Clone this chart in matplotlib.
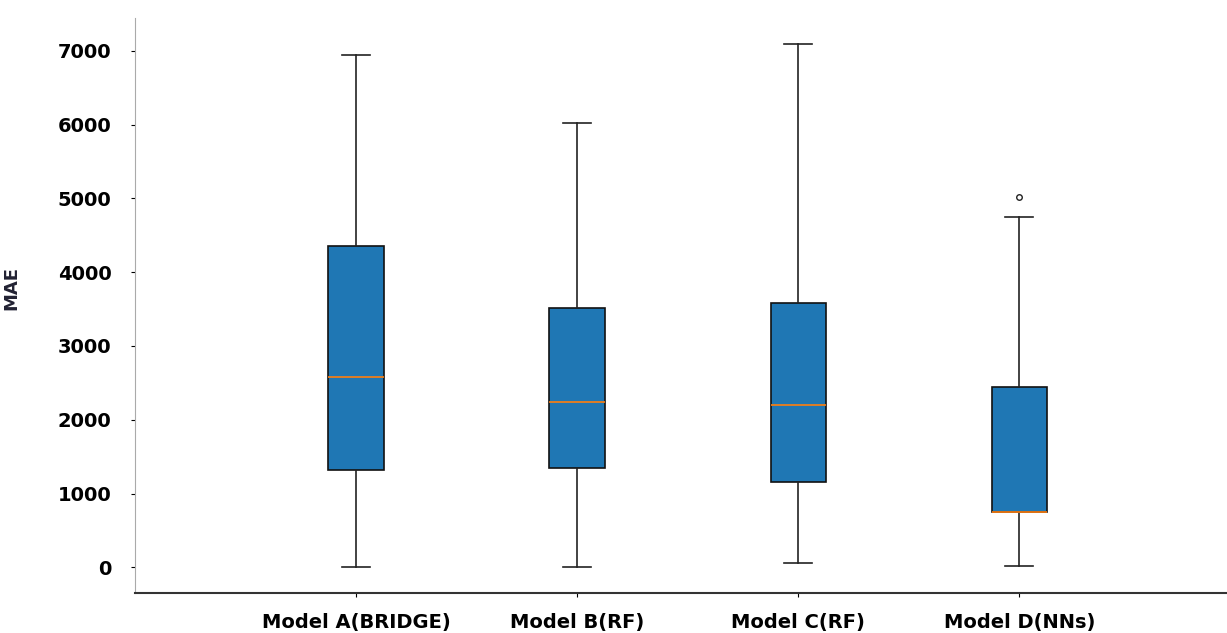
import matplotlib
matplotlib.use("Agg")
import matplotlib.pyplot as plt

models = ["Model A(BRIDGE)", "Model B(RF)", "Model C(RF)", "Model D(NNs)"]
whislo = [0, 0, 55, 15]
q1 = [1315, 1345, 1155, 745]
medians = [2580, 2240, 2200, 745]
q3 = [4355, 3515, 3580, 2440]
whishi = [6945, 6025, 7095, 4750]
fliers = [[], [], [], [5020]]

stats = []
for i, name in enumerate(models):
    stats.append({
        "label": name,
        "whislo": whislo[i],
        "q1": q1[i],
        "med": medians[i],
        "q3": q3[i],
        "whishi": whishi[i],
        "fliers": fliers[i],
    })

fig = plt.figure(figsize=(12.27, 6.33), dpi=100)
ax = fig.add_axes([0.11, 0.063, 0.89, 0.909])

ax.bxp(
    stats,
    positions=[1, 2, 3, 4],
    widths=0.25,
    patch_artist=True,
    boxprops=dict(facecolor="#1f77b4", edgecolor="#111111", linewidth=1.2),
    medianprops=dict(color="#ff7f0e", linewidth=1.2),
    whiskerprops=dict(color="#222222", linewidth=1.2),
    capprops=dict(color="#222222", linewidth=1.2),
    flierprops=dict(marker="o", markersize=4, markerfacecolor="none",
                    markeredgecolor="#222222"),
)

ax.set_xlim(0.0, 4.94)
ax.set_ylim(-350, 7450)
ax.set_yticks(range(0, 7001, 1000))
ax.set_ylabel("MAE", fontsize=13, fontweight="bold", color="#222233")
ax.yaxis.set_label_coords(-0.105, 0.53)

for lbl in ax.get_xticklabels() + ax.get_yticklabels():
    lbl.set_fontweight("bold")
    lbl.set_fontsize(14)
ax.tick_params(axis="x", length=3, pad=11)
ax.tick_params(axis="y", length=3, pad=14)

ax.spines["top"].set_visible(False)
ax.spines["right"].set_visible(False)
ax.spines["left"].set_color("#aaaaaa")
ax.spines["bottom"].set_color("#333333")
ax.spines["bottom"].set_linewidth(1.5)

fig.savefig("out.png", dpi=100)
